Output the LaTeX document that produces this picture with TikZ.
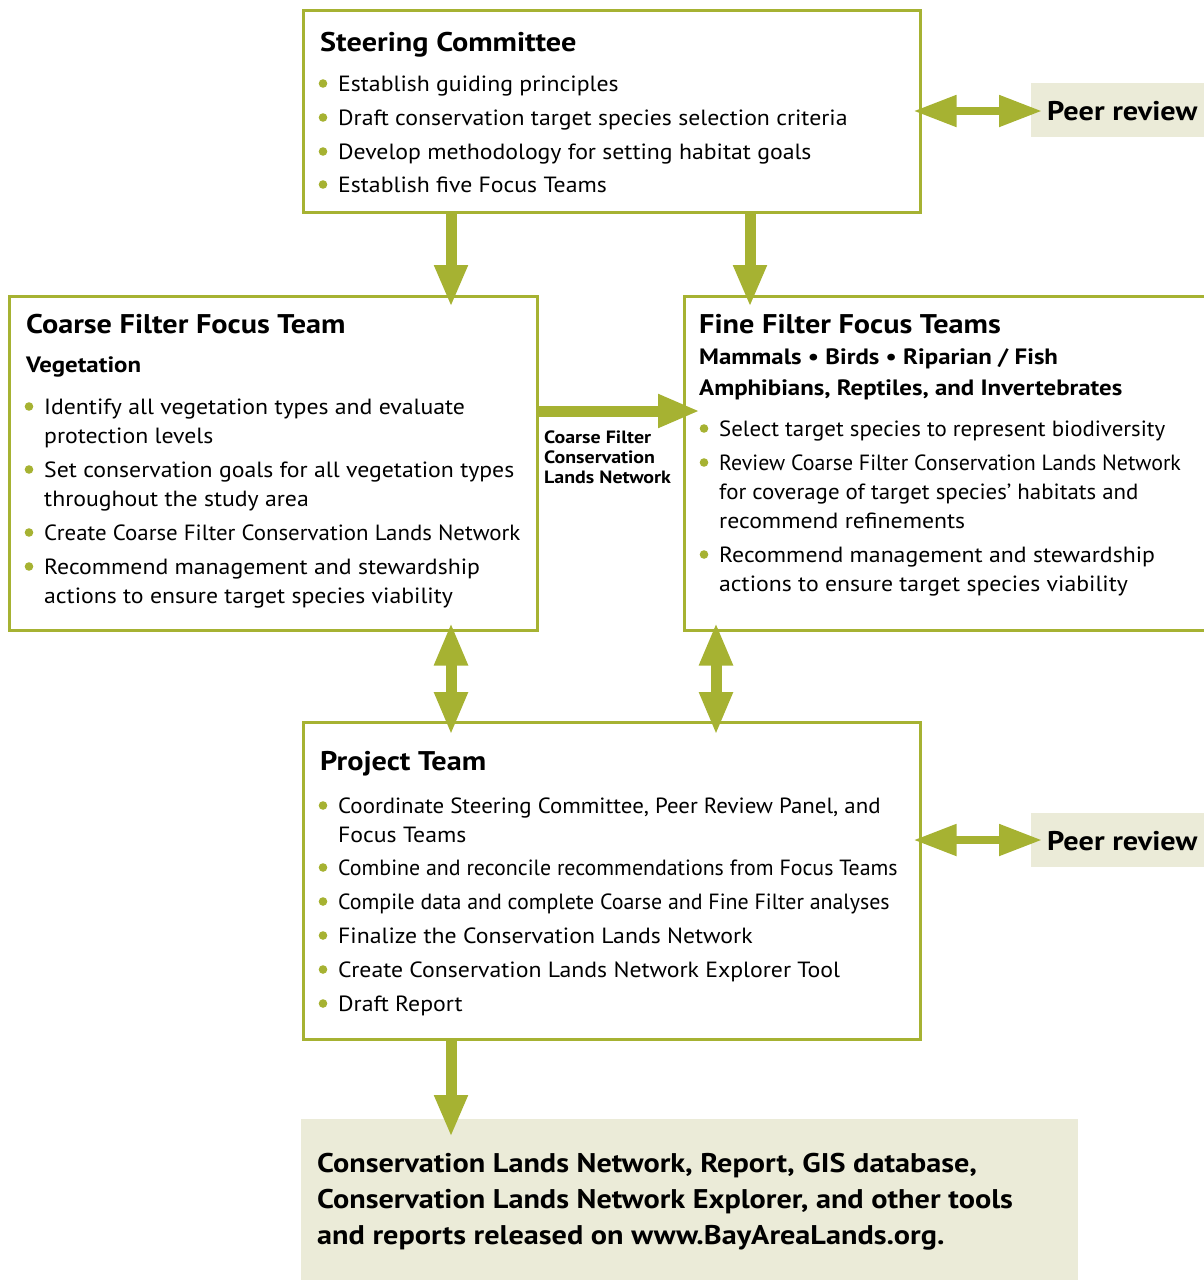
\documentclass[tikz,border=0pt]{standalone}
\usepackage{fontspec}
\setmainfont{PT Sans}
\newfontfamily\bodyf[FakeStretch=1.08]{PT Sans}
\newfontfamily\midf[FakeStretch=1.04]{PT Sans}
\newfontfamily\condf[FakeStretch=0.995]{PT Sans}
\newfontfamily\boldf[FakeStretch=1.12]{PT Sans}
\usetikzlibrary{arrows.meta,calc}
\definecolor{cgreen}{HTML}{A6B232}
\definecolor{cfill}{HTML}{EBEBD8}
\tikzset{
  box/.style={draw=cgreen, line width=2.5pt, inner sep=0pt, anchor=north west},
  fillbox/.style={fill=cfill, draw=none, inner sep=0pt, anchor=north west},
  body/.style={anchor=base west, inner sep=0pt, font=\bodyf\fontsize{22}{25}\selectfont},
  mbody/.style={anchor=base west, inner sep=0pt, font=\midf\fontsize{22}{25}\selectfont},
  cbody/.style={anchor=base west, inner sep=0pt, font=\condf\fontsize{22}{25}\selectfont},
  head/.style={anchor=base west, inner sep=0pt, font=\boldf\bfseries\fontsize{27}{30}\selectfont},
  sub/.style={anchor=base west, inner sep=0pt, font=\boldf\bfseries\fontsize{22.2}{25}\selectfont},
  small/.style={anchor=base west, inner sep=0pt, font=\boldf\bfseries\fontsize{17.8}{20}\selectfont},
  fat/.style={draw=cgreen, line width=11pt, -{Triangle[width=31pt,length=42pt]}},
  fatdbl/.style={draw=cgreen, line width=11pt, {Triangle[width=31pt,length=43pt]}-{Triangle[width=31pt,length=43pt]}},
  peerdbl/.style={draw=cgreen, line width=8pt, {Triangle[width=30pt,length=43pt]}-{Triangle[width=30pt,length=43pt]}},
}
% #1 style, #2 name, #3 x, #4 baseline, #5 text
\newcommand\bul[5][body]{%
  \fill[cgreen] (#3-15,#4-7.5) circle (4.3pt);
  \node[#1] (#2) at (#3,#4) {#5};}
\newcommand\lin[5][body]{\node[#1] (#2) at (#3,#4) {#5};}
\begin{document}
\begin{tikzpicture}[x=1pt,y=-1pt]
\useasboundingbox (0,0) rectangle (1204,1280);

% boxes
\node[box, minimum width=617pt, minimum height=202pt] (sc) at (302,9) {};
\node[box, minimum width=528pt, minimum height=334pt] (cf) at (8,295) {};
\node[box, minimum width=540pt, minimum height=334pt] (ff) at (683,295) {};
\node[box, minimum width=617pt, minimum height=317pt] (pt) at (302,721) {};
\node[fillbox, minimum width=173pt, minimum height=54pt] (pr1) at (1031,83) {};
\node[fillbox, minimum width=173pt, minimum height=54pt] (pr2) at (1031,813) {};
\node[fillbox, minimum width=777pt, minimum height=170pt] (out) at (301,1119) {};

% Steering Committee
\node[head] (sch) at (320,51) {Steering Committee};
\bul{s1}{338}{91}{Establish guiding principles}
\bul{s2}{338}{125}{Draft conservation target species selection criteria}
\bul{s3}{338}{159}{Develop methodology for setting habitat goals}
\bul{s4}{338}{192}{Establish five Focus Teams}

% Coarse Filter
\node[head] (cfh) at (26,333) {Coarse Filter Focus Team};
\node[sub] (cfs) at (26,372) {Vegetation};
\bul{c1}{44}{414}{Identify all vegetation types and evaluate}
\lin{c1b}{44}{443}{protection levels}
\bul{c2}{44}{477}{Set conservation goals for all vegetation types}
\lin{c2b}{44}{506}{throughout the study area}
\bul[mbody]{c3}{44}{540}{Create Coarse Filter Conservation Lands Network}
\bul{c4}{44}{574}{Recommend management and stewardship}
\lin{c4b}{44}{603}{actions to ensure target species viability}

% Fine Filter
\node[head] (ffh) at (699,333) {Fine Filter Focus Teams};
\node[sub] (ffs1) at (699,364) {Mammals • Birds • Riparian / Fish};
\node[sub] (ffs2) at (699,395) {Amphibians, Reptiles, and Invertebrates};
\bul[mbody]{f1}{719}{436}{Select target species to represent biodiversity}
\bul[cbody]{f2}{719}{470}{Review Coarse Filter Conservation Lands Network}
\lin[mbody]{f2b}{719}{499}{for coverage of target species’ habitats and}
\lin{f2c}{719}{528}{recommend refinements}
\bul{f3}{719}{562}{Recommend management and stewardship}
\lin{f3b}{719}{591}{actions to ensure target species viability}

% Project Team
\node[head] (pth) at (320,770) {Project Team};
\bul[mbody]{p1}{338}{813}{Coordinate Steering Committee, Peer Review Panel, and}
\lin{p1b}{338}{842}{Focus Teams}
\bul[cbody]{p2}{338}{875}{Combine and reconcile recommendations from Focus Teams}
\bul[cbody]{p3}{338}{909}{Compile data and complete Coarse and Fine Filter analyses}
\bul{p4}{338}{943}{Finalize the Conservation Lands Network}
\bul{p5}{338}{977}{Create Conservation Lands Network Explorer Tool}
\bul{p6}{338}{1011}{Draft Report}

% Peer review
\node[head] (prt1) at (1047,120) {Peer review};
\node[head] (prt2) at (1047,850) {Peer review};

% Output
\node[head] (o1) at (317,1172) {Conservation Lands Network, Report, GIS database,};
\node[head] (o2) at (317,1208) {Conservation Lands Network Explorer, and other tools};
\node[head] (o3) at (317,1244) {and reports released on www.BayAreaLands.org.};

% label
\node[small] (l1) at (544,443) {Coarse Filter};
\node[small] (l2) at (544,463) {Conservation};
\node[small] (l3) at (544,483) {Lands Network};

% arrows
\draw[fat, shorten >=-12pt] (sc.south -| 451,0) -- (cf.north -| 451,0);
\draw[fat, shorten >=-12pt] (sc.south -| 750,0) -- (ff.north -| 750,0);
\draw[fat, shorten >=-17pt] (cf.east |- 0,411) -- (ff.west |- 0,411);
\draw[fatdbl, shorten <=-9pt, shorten >=-14pt] (cf.south -| 451,0) -- (pt.north -| 451,0);
\draw[fatdbl, shorten <=-9pt, shorten >=-14pt] (ff.south -| 716,0) -- (pt.north -| 716,0);
\draw[fat, shorten >=-18pt] (pt.south -| 451,0) -- (out.north -| 451,0);
\draw[peerdbl, shorten <=-8pt, shorten >=-11pt] (sc.east |- 0,111) -- (pr1.west |- 0,111);
\draw[peerdbl, shorten <=-8pt, shorten >=-11pt] (pt.east |- 0,840) -- (pr2.west |- 0,840);
\end{tikzpicture}
\end{document}
